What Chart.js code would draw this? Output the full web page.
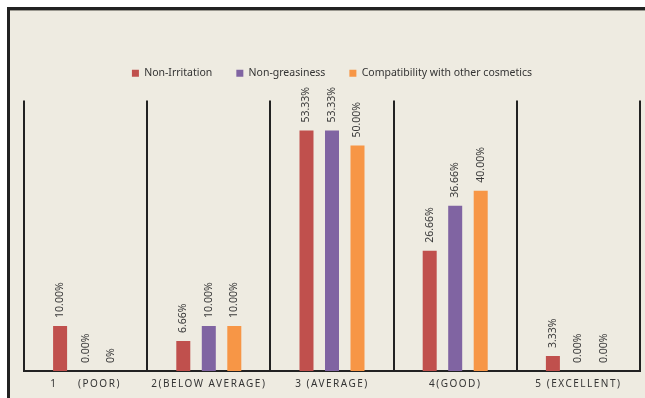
<!DOCTYPE html>
<html>
<head>
<meta charset="utf-8">
<script src="https://cdn.jsdelivr.net/npm/chart.js@4.4.1/dist/chart.umd.min.js"></script>
<style>
  html, body { margin: 0; padding: 0; background: #ffffff; }
  #wrap { position: relative; width: 645px; height: 398px; overflow: hidden; }
  #frame { position: absolute; left: 7px; top: 7px; width: 640px; height: 400px;
           background: #EEEBE1; border-top: 3px solid #222222; border-left: 3px solid #222222;
           box-shadow: inset 0 1px 0 #9a9890; }
  #c { position: absolute; left: 0; top: 0; }
</style>
</head>
<body>
<div id="wrap">
  <div id="frame"></div>
  <canvas id="c" width="645" height="398"></canvas>
</div>
<script>
const categories = ['1     (POOR)', '2(BELOW AVERAGE)', '3 (AVERAGE)', '4(GOOD)', '5 (EXCELLENT)'];
const seriesNames = ['Non-Irritation', 'Non-greasiness', 'Compatibility with other cosmetics'];
const nonIrritation = [10.00, 6.66, 53.33, 26.66, 3.33];
const nonGreasiness = [0.00, 10.00, 53.33, 36.66, 0.00];
const compatibility = [0.00, 10.00, 50.00, 40.00, 0.00];
const nonIrritationLabels = ['10.00%', '6.66%', '53.33%', '26.66%', '3.33%'];
const nonGreasinessLabels = ['0.00%', '10.00%', '53.33%', '36.66%', '0.00%'];
const compatibilityLabels = ['0%', '10.00%', '50.00%', '40.00%', '0.00%'];
const valueLabels = [nonIrritationLabels, nonGreasinessLabels, compatibilityLabels];

const legendGapPlugin = {
  id: 'legendGap',
  beforeInit(chart) {
    if (!chart.legend) return;
    const orig = chart.legend.fit;
    chart.legend.fit = function () { orig.call(this); this.height += 12; };
  }
};

const valueLabelPlugin = {
  id: 'valueLabels',
  beforeDraw(chart) { chart.ctx.letterSpacing = '0px'; },
  afterDatasetsDraw(chart) {
    const ctx = chart.ctx;
    ctx.save();
    ctx.letterSpacing = '0px';
    ctx.font = '10.5px "Noto Sans"';
    ctx.fillStyle = '#3a3a3a';
    ctx.textAlign = 'left';
    ctx.textBaseline = 'middle';
    chart.data.datasets.forEach((ds, di) => {
      const meta = chart.getDatasetMeta(di);
      meta.data.forEach((bar, i) => {
        ctx.save();
        ctx.translate(bar.x, bar.y - 8);
        ctx.rotate(-Math.PI / 2);
        ctx.fillText(valueLabels[di][i], 0, 0);
        ctx.restore();
      });
    });
    ctx.restore();
    ctx.letterSpacing = '1.5px';
  },
  afterDraw(chart) { chart.ctx.letterSpacing = '0px'; }
};

new Chart(document.getElementById('c'), {
  type: 'bar',
  data: {
    labels: categories,
    datasets: [
      { label: seriesNames[0], data: nonIrritation, backgroundColor: '#C0504D' },
      { label: seriesNames[1], data: nonGreasiness, backgroundColor: '#8064A2' },
      { label: seriesNames[2], data: compatibility, backgroundColor: '#F79646' }
    ]
  },
  options: {
    responsive: false,
    animation: false,
    categoryPercentage: 0.621,
    barPercentage: 0.549,
    layout: { padding: { left: 24, right: 5, top: 44, bottom: 0 } },
    plugins: {
      legend: {
        position: 'top',
        labels: {
          boxWidth: 7, boxHeight: 7, padding: 24,
          color: '#333333',
          font: { family: '"Noto Sans"', size: 10.5 }
        }
      },
      tooltip: { enabled: false }
    },
    scales: {
      x: {
        grid: { offset: true, drawTicks: false, color: '#222222', lineWidth: 2 },
        border: { display: true, color: '#222222', width: 2 },
        ticks: {
          z: 1, padding: 8, color: '#333333', maxRotation: 0, autoSkip: false,
          font: { family: '"Noto Sans"', size: 10, lineHeight: 1.1 }
        }
      },
      y: { display: false, min: 0, max: 60 }
    }
  },
  plugins: [legendGapPlugin, valueLabelPlugin]
});
</script>
</body>
</html>
